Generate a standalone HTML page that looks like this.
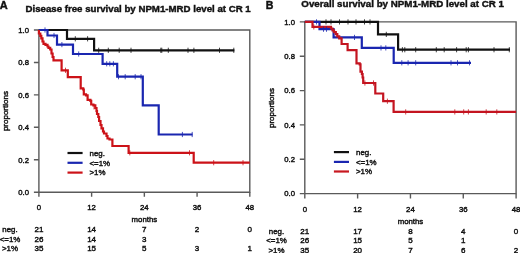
<!DOCTYPE html>
<html><head><meta charset="utf-8"><style>
html,body{margin:0;padding:0;background:#fff;width:520px;height:253px;overflow:hidden}
svg{display:block;will-change:transform}
text{font-family:"Liberation Sans", sans-serif;fill:#111;stroke:#111;stroke-width:0.42px}
</style></head><body>
<svg width="520" height="253" viewBox="0 0 520 253">
<text x="-0.2" y="8.7" font-size="11" text-anchor="start" font-weight="bold" >A</text>
<text x="25.5" y="12" font-size="9.68" text-anchor="start" font-weight="bold" >Disease free survival by NPM1-MRD level at CR 1</text>
<path d="M38.9,192.2V30.0H249.8V192.2H38.9" stroke="#5a5a5a" stroke-width="1.4" fill="none"/>
<text x="29" y="195.0" font-size="7.7" text-anchor="end" font-weight="normal" >0.0</text>
<text x="29" y="162.56" font-size="7.7" text-anchor="end" font-weight="normal" >0.2</text>
<text x="29" y="130.12" font-size="7.7" text-anchor="end" font-weight="normal" >0.4</text>
<text x="29" y="97.67999999999999" font-size="7.7" text-anchor="end" font-weight="normal" >0.6</text>
<text x="29" y="65.24" font-size="7.7" text-anchor="end" font-weight="normal" >0.8</text>
<text x="29" y="32.8" font-size="7.7" text-anchor="end" font-weight="normal" >1.0</text>
<text x="38.9" y="210" font-size="7.8" text-anchor="middle" font-weight="normal" >0</text>
<text x="91.62" y="210" font-size="7.8" text-anchor="middle" font-weight="normal" >12</text>
<text x="144.35" y="210" font-size="7.8" text-anchor="middle" font-weight="normal" >24</text>
<text x="197.08" y="210" font-size="7.8" text-anchor="middle" font-weight="normal" >36</text>
<text x="249.8" y="210" font-size="7.8" text-anchor="middle" font-weight="normal" >48</text>
<path d="M33.9,192.2H38.9M33.9,159.76H38.9M33.9,127.32H38.9M33.9,94.88H38.9M33.9,62.44H38.9M33.9,30.0H38.9M38.9,192.2V196.7M91.62,192.2V196.7M144.35,192.2V196.7M197.08,192.2V196.7M249.8,192.2V196.7" stroke="#5a5a5a" stroke-width="1.4" fill="none"/>
<text x="8" y="111.1" font-size="8" text-anchor="middle" font-weight="normal" transform="rotate(-90 8 111.1)">proportions</text>
<text x="144.35" y="222.2" font-size="7.8" text-anchor="middle" font-weight="normal" >months</text>
<text x="10" y="231.9" font-size="7.9" text-anchor="middle" font-weight="normal" >neg.</text>
<text x="38.9" y="231.9" font-size="8.0" text-anchor="middle" font-weight="normal" >21</text>
<text x="91.62" y="231.9" font-size="8.0" text-anchor="middle" font-weight="normal" >14</text>
<text x="144.35" y="231.9" font-size="8.0" text-anchor="middle" font-weight="normal" >7</text>
<text x="197.08" y="231.9" font-size="8.0" text-anchor="middle" font-weight="normal" >2</text>
<text x="249.8" y="231.9" font-size="8.0" text-anchor="middle" font-weight="normal" >0</text>
<text x="10" y="241.5" font-size="7.9" text-anchor="middle" font-weight="normal" >&lt;=1%</text>
<text x="38.9" y="241.5" font-size="8.0" text-anchor="middle" font-weight="normal" >26</text>
<text x="91.62" y="241.5" font-size="8.0" text-anchor="middle" font-weight="normal" >14</text>
<text x="144.35" y="241.5" font-size="8.0" text-anchor="middle" font-weight="normal" >3</text>
<text x="10" y="251.1" font-size="7.9" text-anchor="middle" font-weight="normal" >&gt;1%</text>
<text x="38.9" y="251.1" font-size="8.0" text-anchor="middle" font-weight="normal" >35</text>
<text x="91.62" y="251.1" font-size="8.0" text-anchor="middle" font-weight="normal" >15</text>
<text x="144.35" y="251.1" font-size="8.0" text-anchor="middle" font-weight="normal" >5</text>
<text x="197.08" y="251.1" font-size="8.0" text-anchor="middle" font-weight="normal" >3</text>
<text x="249.8" y="251.1" font-size="8.0" text-anchor="middle" font-weight="normal" >1</text>
<path d="M38.9,30H67V38.8H94.1V50.3H234.4" stroke="#111111" stroke-width="2.2" fill="none"/>
<path d="M38.9,30H47.5V35.5H57V44.6H73V54H102.6V63.8H117.2V76.7H142.8V105.3H158.7V134.5H192.5" stroke="#1a26b0" stroke-width="2.2" fill="none"/>
<path d="M38.9,30V33.5H40.3V35.9H41.3V38.3H42.5V41.5H43.5V43.8H45.5V44.8H47.5V46.5H48.5V47.8H50.2V49.5H51.5V53.5H52.6V57H53.5V60.3H61.6V70.3H67.8V77.2H80.7V88.3H83.2V89.5H83.8V94.3H86V95.3H87.6V99.8H90.4V100.8H91.2V104.5H93.4V105.4H95.3V108H96.5V111H97V114H98.3V117H99.1V121H100.5V125H101.5V128.3H103V131.5H104V133.5H106.5V136H107.5V138.5H109.5V139.5H112.4V146H128.6V152.8H193.7V162.7H249.8" stroke="#cc1218" stroke-width="2.2" fill="none"/>
<path d="M75.3,36.199999999999996V41.4M87.6,36.199999999999996V41.4M98.7,47.699999999999996V52.9M108.3,47.699999999999996V52.9M119.2,47.699999999999996V52.9M131,47.699999999999996V52.9M160.8,47.699999999999996V52.9M161.8,47.699999999999996V52.9M168.3,47.699999999999996V52.9M188,47.699999999999996V52.9M193.9,47.699999999999996V52.9M219.5,47.699999999999996V52.9M233.8,47.699999999999996V52.9" stroke="#111111" stroke-width="0.8" fill="none"/>
<path d="M45,27.4V32.6M54,32.9V38.1M61.9,42.0V47.2M78.7,51.4V56.6M106.7,61.199999999999996V66.39999999999999M109.8,61.199999999999996V66.39999999999999M113.4,61.199999999999996V66.39999999999999M118.5,74.10000000000001V79.3M125.2,74.10000000000001V79.3M135.2,74.10000000000001V79.3M141,74.10000000000001V79.3M182.4,131.9V137.1M192.2,131.9V137.1" stroke="#1a26b0" stroke-width="0.8" fill="none"/>
<path d="M65.5,67.7V72.89999999999999M94,104.30000000000001V109.5M129.8,150.20000000000002V155.4M189.5,150.20000000000002V155.4M213.7,160.1V165.29999999999998M243,160.1V165.29999999999998" stroke="#cc1218" stroke-width="0.8" fill="none"/>
<path d="M67.5,153H82.6" stroke="#111111" stroke-width="2.2"/>
<text x="89.5" y="155.8" font-size="7.9" text-anchor="start" font-weight="normal" >neg.</text>
<path d="M67.5,162.8H82.6" stroke="#1a26b0" stroke-width="2.2"/>
<text x="89.5" y="165.60000000000002" font-size="7.9" text-anchor="start" font-weight="normal" >&lt;=1%</text>
<path d="M67.5,172.6H82.6" stroke="#cc1218" stroke-width="2.2"/>
<text x="89.5" y="175.4" font-size="7.9" text-anchor="start" font-weight="normal" >&gt;1%</text>
<text x="265.8" y="8.5" font-size="10.6" text-anchor="start" font-weight="bold" >B</text>
<text x="301.3" y="7.0" font-size="9.75" text-anchor="start" font-weight="bold" >Overall survival by NPM1-MRD level at CR 1</text>
<path d="M304.8,193.6V21.9H516.1V193.6H304.8" stroke="#5a5a5a" stroke-width="1.4" fill="none"/>
<text x="295" y="196.4" font-size="7.7" text-anchor="end" font-weight="normal" >0.0</text>
<text x="295" y="162.06" font-size="7.7" text-anchor="end" font-weight="normal" >0.2</text>
<text x="295" y="127.72" font-size="7.7" text-anchor="end" font-weight="normal" >0.4</text>
<text x="295" y="93.38" font-size="7.7" text-anchor="end" font-weight="normal" >0.6</text>
<text x="295" y="59.04" font-size="7.7" text-anchor="end" font-weight="normal" >0.8</text>
<text x="295" y="24.7" font-size="7.7" text-anchor="end" font-weight="normal" >1.0</text>
<text x="304.8" y="211.5" font-size="7.8" text-anchor="middle" font-weight="normal" >0</text>
<text x="357.62" y="211.5" font-size="7.8" text-anchor="middle" font-weight="normal" >12</text>
<text x="410.45" y="211.5" font-size="7.8" text-anchor="middle" font-weight="normal" >24</text>
<text x="463.27" y="211.5" font-size="7.8" text-anchor="middle" font-weight="normal" >36</text>
<text x="516.1" y="211.5" font-size="7.8" text-anchor="middle" font-weight="normal" >48</text>
<path d="M299.8,193.6H304.8M299.8,159.26H304.8M299.8,124.92H304.8M299.8,90.58H304.8M299.8,56.24H304.8M299.8,21.9H304.8M304.8,193.6V198.4M357.62,193.6V198.4M410.45,193.6V198.4M463.27,193.6V198.4M516.1,193.6V198.4" stroke="#5a5a5a" stroke-width="1.4" fill="none"/>
<text x="274.2" y="108" font-size="8" text-anchor="middle" font-weight="normal" transform="rotate(-90 274.2 108)">proportions</text>
<text x="410.45" y="223.6" font-size="7.8" text-anchor="middle" font-weight="normal" >months</text>
<text x="276.5" y="233.9" font-size="7.9" text-anchor="middle" font-weight="normal" >neg.</text>
<text x="304.8" y="233.9" font-size="8.0" text-anchor="middle" font-weight="normal" >21</text>
<text x="357.62" y="233.9" font-size="8.0" text-anchor="middle" font-weight="normal" >17</text>
<text x="410.45" y="233.9" font-size="8.0" text-anchor="middle" font-weight="normal" >8</text>
<text x="463.27" y="233.9" font-size="8.0" text-anchor="middle" font-weight="normal" >4</text>
<text x="516.1" y="233.9" font-size="8.0" text-anchor="middle" font-weight="normal" >0</text>
<text x="276.5" y="243.4" font-size="7.9" text-anchor="middle" font-weight="normal" >&lt;=1%</text>
<text x="304.8" y="243.4" font-size="8.0" text-anchor="middle" font-weight="normal" >26</text>
<text x="357.62" y="243.4" font-size="8.0" text-anchor="middle" font-weight="normal" >15</text>
<text x="410.45" y="243.4" font-size="8.0" text-anchor="middle" font-weight="normal" >5</text>
<text x="463.27" y="243.4" font-size="8.0" text-anchor="middle" font-weight="normal" >1</text>
<text x="276.5" y="252.8" font-size="7.9" text-anchor="middle" font-weight="normal" >&gt;1%</text>
<text x="304.8" y="252.8" font-size="8.0" text-anchor="middle" font-weight="normal" >35</text>
<text x="357.62" y="252.8" font-size="8.0" text-anchor="middle" font-weight="normal" >20</text>
<text x="410.45" y="252.8" font-size="8.0" text-anchor="middle" font-weight="normal" >7</text>
<text x="463.27" y="252.8" font-size="8.0" text-anchor="middle" font-weight="normal" >6</text>
<text x="516.1" y="252.8" font-size="8.0" text-anchor="middle" font-weight="normal" >2</text>
<path d="M304.8,21.9H378V34.4H398.1V49.7H510" stroke="#111111" stroke-width="2.2" fill="none"/>
<path d="M304.8,21.9H319.5V29.2H333.6V37.4H361.8V47.9H393.7V62.8H471" stroke="#1a26b0" stroke-width="2.2" fill="none"/>
<path d="M304.8,21.9H312.5V26.9H331V28.5H332.5V30.3H334V32.2H335.8V34.2H337.3V36.3H339.2V38.3H341.6V44H347.6V50.2H356.5V63.3H359.7V64.3H360.5V71.6H361.9V74H362.6V77.5H363.2V83H375.3V93.5H383.2V101.2H393.6V111.9H516.1" stroke="#c41420" stroke-width="2.2" fill="none"/>
<path d="M326,19.299999999999997V24.5M331,19.299999999999997V24.5M339.5,19.299999999999997V24.5M348,19.299999999999997V24.5M356,19.299999999999997V24.5M364.5,19.299999999999997V24.5M370,19.299999999999997V24.5M386.3,31.799999999999997V37.0M402.4,47.1V52.300000000000004M404.8,47.1V52.300000000000004M415.7,47.1V52.300000000000004M436.3,47.1V52.300000000000004M444.2,47.1V52.300000000000004M456.6,47.1V52.300000000000004M466.2,47.1V52.300000000000004M468.4,47.1V52.300000000000004M494,47.1V52.300000000000004M509.3,47.1V52.300000000000004" stroke="#111111" stroke-width="0.8" fill="none"/>
<path d="M316.5,19.299999999999997V24.5M323.5,26.599999999999998V31.8M326.5,26.599999999999998V31.8M354.5,34.8V40.0M381,45.3V50.5M385.8,45.3V50.5M401.8,60.199999999999996V65.39999999999999M408.1,60.199999999999996V65.39999999999999M415.7,60.199999999999996V65.39999999999999M451,60.199999999999996V65.39999999999999M457.5,60.199999999999996V65.39999999999999M469.5,60.199999999999996V65.39999999999999" stroke="#1a26b0" stroke-width="0.8" fill="none"/>
<path d="M313.8,24.299999999999997V29.5M364.9,80.4V85.6M373.5,80.4V85.6M387.4,98.60000000000001V103.8M405.7,109.30000000000001V114.5M454.8,109.30000000000001V114.5M463.7,109.30000000000001V114.5M468.4,109.30000000000001V114.5M486.2,109.30000000000001V114.5M496.8,109.30000000000001V114.5" stroke="#c41420" stroke-width="0.8" fill="none"/>
<path d="M333.9,152.1H349" stroke="#111111" stroke-width="2.2"/>
<text x="356" y="154.9" font-size="7.9" text-anchor="start" font-weight="normal" >neg.</text>
<path d="M333.9,161.9H349" stroke="#1a26b0" stroke-width="2.2"/>
<text x="356" y="164.70000000000002" font-size="7.9" text-anchor="start" font-weight="normal" >&lt;=1%</text>
<path d="M333.9,171.5H349" stroke="#c81820" stroke-width="2.2"/>
<text x="356" y="174.3" font-size="7.9" text-anchor="start" font-weight="normal" >&gt;1%</text>
</svg>
</body></html>
